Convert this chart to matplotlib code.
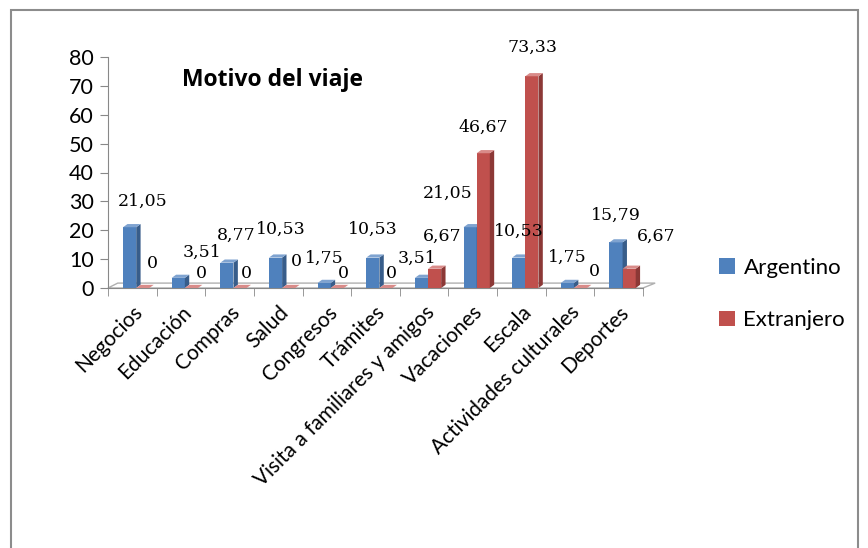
import numpy as np
import matplotlib.pyplot as plt
from matplotlib.patches import Polygon, Rectangle

categorias = ["Negocios", "Educación", "Compras", "Salud", "Congresos", "Trámites",
              "Visita a familiares y amigos", "Vacaciones", "Escala",
              "Actividades culturales", "Deportes"]
argentino = [21.05, 3.51, 8.77, 10.53, 1.75, 10.53, 3.51, 21.05, 10.53, 1.75, 15.79]
extranjero = [0, 0, 0, 0, 0, 0, 6.67, 46.67, 73.33, 0, 6.67]
yticks = [0, 10, 20, 30, 40, 50, 60, 70, 80]

# label offsets in pixels (Excel moves them around)
off_arg = [(13, 26), (24, 26), (9, 27), (5, 28), (0, 25), (0, 28), (-4, 20),
           (-22, 34), (0, 26), (0, 26), (0, 27)]
off_ext = [(10, 25), (10, 15), (6, 15), (8, 26), (6, 15), (5, 15), (8, 32),
           (0, 26), (1, 29), (14, 16), (27, 32)]

azul = ("#4F81BD", "#385D8A", "#7FA3D0")
rojo = ("#C0504D", "#8C3836", "#D98B89")

W, H = 868, 548
fig = plt.figure(figsize=(W / 100, H / 100), dpi=100)
ax = fig.add_axes([108 / W, 1 - 288 / H, (643 - 108) / W, (288 - 57) / H])
ax.set_xlim(-0.5, 10.5)
ax.set_ylim(0, 80)

w = 0.27
dx, dy = 0.09, 1.1


def bar3d(x0, v, cols, z):
    x1 = x0 + w
    ax.bar(x0, v, width=w, align="edge", color=cols[0], zorder=z, linewidth=0)
    ax.add_patch(Polygon([(x1, 0), (x1 + dx, dy), (x1 + dx, v + dy), (x1, v)],
                         closed=True, fc=cols[1], ec="none", zorder=z))
    ax.add_patch(Polygon([(x0, v), (x0 + dx, v + dy), (x1 + dx, v + dy), (x1, v)],
                         closed=True, fc=cols[2], ec="none", zorder=z))


# floor
ax.add_patch(Polygon([(-0.5, 0), (-0.3, 1.7), (10.75, 1.7), (10.5, 0)], closed=True,
                     fc="none", ec="#B0B0B0", lw=1, zorder=1, clip_on=False))

x = np.arange(len(categorias))
for i in x:
    bar3d(i - 0.19, argentino[i], azul, 3 + 2 * i)
    bar3d(i + 0.08, extranjero[i], rojo, 4 + 2 * i)

fmt = lambda v: ("%.2f" % v).replace(".", ",") if v != 0 else "0"
for i in x:
    ax.annotate(fmt(argentino[i]), (i - 0.19 + w / 2, argentino[i]), xytext=off_arg[i],
                textcoords="offset pixels", ha="center", va="center",
                family="DejaVu Serif", fontsize=12.5, zorder=40, annotation_clip=False)
    ax.annotate(fmt(extranjero[i]), (i + 0.08 + w / 2, extranjero[i]), xytext=off_ext[i],
                textcoords="offset pixels", ha="center", va="center",
                family="DejaVu Serif", fontsize=12.5, zorder=40, annotation_clip=False)

for s in ["top", "right"]:
    ax.spines[s].set_visible(False)
for s in ["left", "bottom"]:
    ax.spines[s].set_color("#888888")
ax.set_yticks(yticks)
ax.set_yticklabels([str(t) for t in yticks], family="Lato", fontsize=15.5)
ax.tick_params(axis="y", length=6, color="#888888", pad=4)
ax.set_xticks(x)
ax.set_xticklabels(categorias, rotation=45, ha="right", va="top", rotation_mode="anchor",
                   family="Lato", fontsize=15)
ax.tick_params(axis="x", length=0, pad=10)
ax.set_xticks(np.arange(-0.5, 11, 1), minor=True)
ax.tick_params(axis="x", which="minor", length=6, color="#888888")

fig.text(272 / W, 1 - 80 / H, "Motivo del viaje", family="Open Sans", fontweight="bold",
         fontsize=16.5, ha="center", va="center")

h1 = Rectangle((0, 0), 1, 1, fc=azul[0])
h2 = Rectangle((0, 0), 1, 1, fc=rojo[0])
fig.legend([h1, h2], ["Argentino", "Extranjero"], loc="upper left",
           bbox_to_anchor=(699 / W, 1 - 238 / H), frameon=False,
           prop={"family": "Lato", "size": 16}, handlelength=0.7, handleheight=0.7,
           handletextpad=0.4, labelspacing=1.45)

fig.patches.append(Rectangle((11 / W, -0.05), (858 - 11) / W, 1.05 - 10 / H,
                             transform=fig.transFigure, fc="none", ec="#8C8C8C", lw=1.5))

fig.savefig("out.png", dpi=100)
